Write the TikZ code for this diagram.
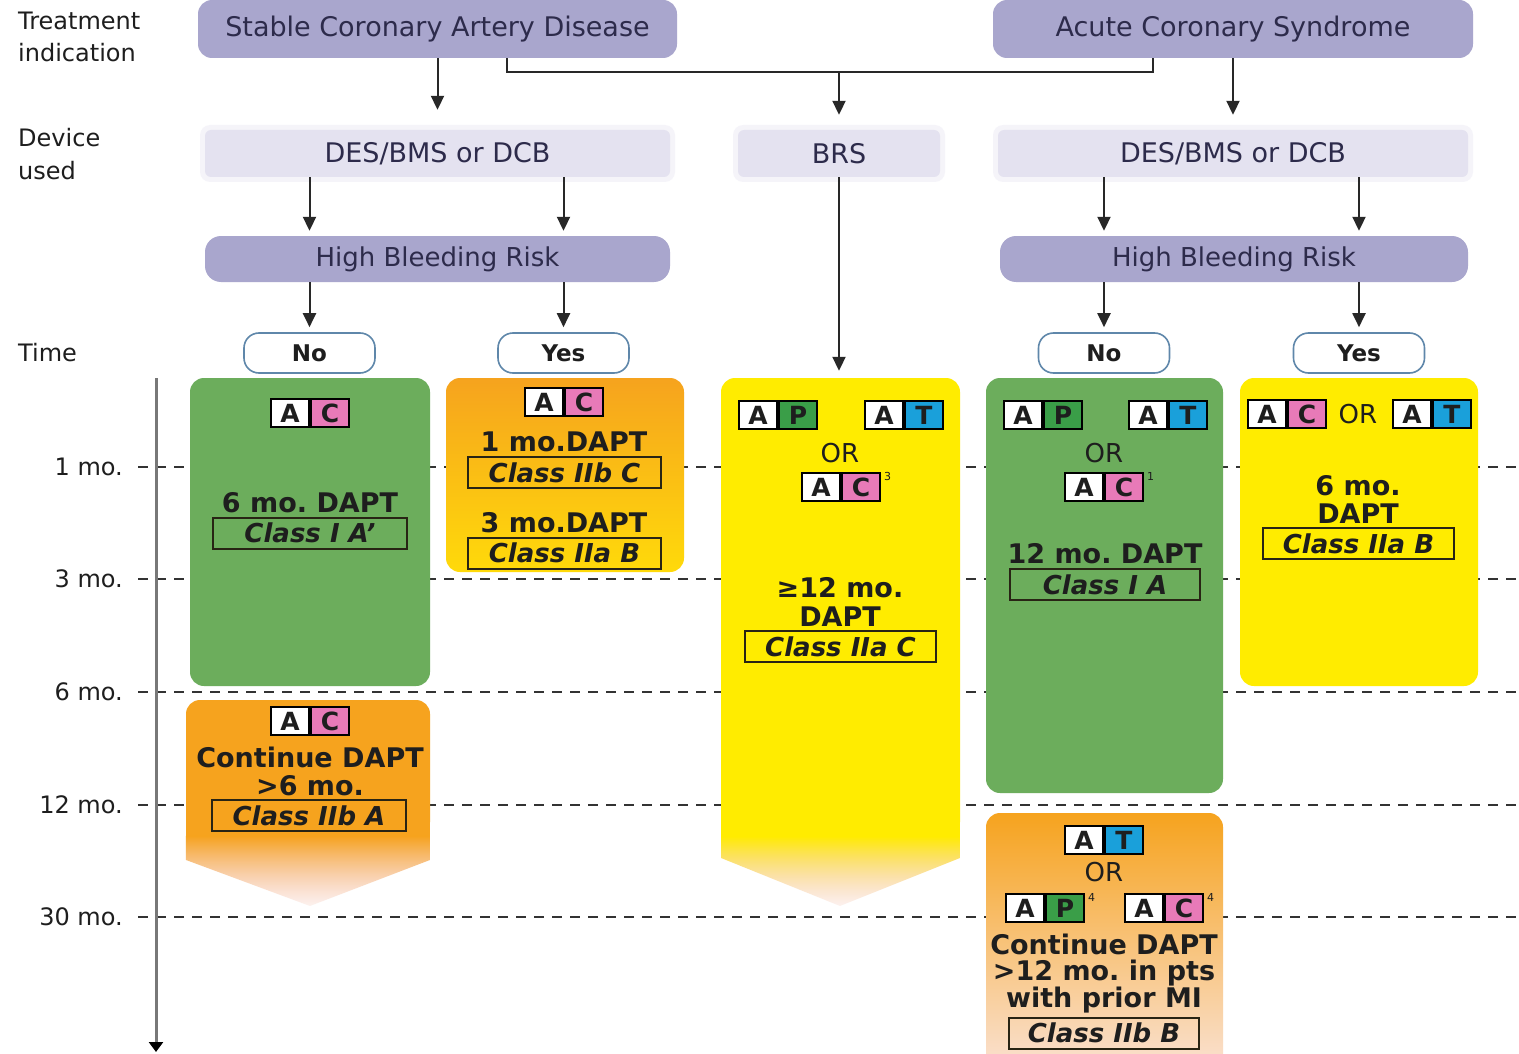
\documentclass[tikz,border=0pt]{standalone}
\usepackage{fontspec}
\setmainfont{DejaVu Sans}[ItalicFont={DejaVu Sans Oblique},BoldFont={DejaVu Sans Bold},BoldItalicFont={DejaVu Sans Bold Oblique}]
\usetikzlibrary{arrows.meta,fadings}
\definecolor{lavC}{RGB}{169,166,205}
\definecolor{devC}{RGB}{228,226,240}
\definecolor{navyC}{RGB}{45,43,75}
\definecolor{textC}{RGB}{30,30,30}
\definecolor{greenC}{RGB}{108,173,92}
\definecolor{orangeC}{RGB}{246,163,30}
\definecolor{yellowC}{RGB}{255,236,0}
\definecolor{yellowD}{RGB}{255,218,10}
\definecolor{pinkC}{RGB}{232,122,184}
\definecolor{greenP}{RGB}{58,158,72}
\definecolor{blueT}{RGB}{26,160,218}
\definecolor{pillC}{RGB}{95,135,170}
\definecolor{arrowC}{RGB}{40,40,40}
\definecolor{axisC}{RGB}{120,120,120}
\definecolor{clsC}{RGB}{40,36,20}
\definecolor{peachC}{RGB}{250,226,212}
\definecolor{pinkfade}{RGB}{242,170,150}
\newcommand\myfs[1]{\fontsize{#1}{#1}\selectfont}
\tikzfading[name=fadedown, top color=transparent!0, bottom color=transparent!85]
\newcommand\mybadge[5]{%
  \node[cell, fill=white, anchor=east] (#1a) at (#2,#3) {A};
  \node[cell, fill=#5, anchor=west] (#1b) at (#2,#3) {#4};}
\tikzset{
  arr/.style={draw=arrowC, line width=2pt, -{Triangle[width=13pt,length=14pt]}},
  conn/.style={draw=arrowC, line width=2pt},
  hdr/.style={rectangle, rounded corners=14pt, fill=lavC, text=navyC, font=\myfs{27}, inner sep=0pt},
  dev/.style={rectangle, rounded corners=6pt, fill=devC, text=navyC, font=\myfs{27}, inner sep=0pt},
  devhalo/.style={rectangle, rounded corners=10pt, fill=devC, opacity=0.35, inner sep=0pt},
  hbr/.style={rectangle, rounded corners=16pt, fill=lavC, text=navyC, font=\myfs{26}, inner sep=0pt},
  pill/.style={rectangle, rounded corners=15pt, draw=pillC, line width=1.6pt, fill=white, font=\bfseries\myfs{23}, inner sep=0pt, minimum width=131pt, minimum height=40pt, text=textC},
  lbl/.style={anchor=west, font=\myfs{24}, text=textC, inner sep=0pt},
  tick/.style={anchor=east, font=\myfs{24}, text=textC, inner sep=0pt},
  box/.style={rectangle, rounded corners=14pt, inner sep=0pt},
  bt/.style={font=\bfseries\myfs{27}, text=textC, inner sep=0pt},
  cls/.style={draw=clsC, line width=2pt, font=\bfseries\itshape\myfs{26}, text=textC, inner sep=0pt, minimum height=31pt},
  cell/.style={draw=black, line width=2pt, minimum width=38pt, minimum height=28pt, inner sep=0pt, font=\bfseries\myfs{25}, text=textC},
  ortext/.style={font=\myfs{26}, text=textC, inner sep=0pt},
  sup/.style={font=\myfs{11}, text=textC, inner sep=0pt, anchor=north west},
  dashln/.style={draw=black!80, line width=1.8pt, dash pattern=on 10pt off 8pt},
}
\begin{document}
\frenchspacing
\begin{tikzpicture}[x=1pt,y=-1pt]
\useasboundingbox (0,0) rectangle (1519,1054);
\clip (0,0) rectangle (1519,1054);
\fill[white] (0,0) rectangle (1519,1054);

% left labels
\node[lbl] (l1) at (18,21) {Treatment};
\node[lbl] (l2) at (18,53) {indication};
\node[lbl] (l3) at (18,138) {Device};
\node[lbl] (l4) at (18,171) {used};
\node[lbl] (l5) at (18,353) {Time};

% time grid
\foreach \yy/\tt in {467/1 mo., 579/3 mo., 692/6 mo., 805/12 mo., 917/30 mo.}{
  \draw[dashln] (138,\yy) -- (1519,\yy);
  \node[tick] (t\yy) at (123,\yy) {\tt};
}
\coordinate (axtop) at (156,378);
\coordinate (axbot) at (156,1052);
\draw[draw=axisC, line width=3pt, -{Triangle[width=14pt,length=10pt,fill=black,color=black]}] (axtop) -- (axbot);

% boxes
\node[box, fill=greenC, minimum width=240pt, minimum height=308pt] (g1) at (310,532) {};
\node[box, top color=orangeC, middle color=orangeC, bottom color=yellowD, minimum width=238pt, minimum height=194pt] (o1) at (565,475) {};
\node[box, fill=yellowC, minimum width=239pt, minimum height=458pt] (y1) at (840.5,607) {};
\fill[yellowC] (721,800) rectangle (960,836);
\shade[top color=yellowC, bottom color=pinkfade, path fading=fadedown] (721,836) -- (960,836) -- (960,858) -- (840,906) -- (721,858) -- cycle;
\node[box, fill=greenC, minimum width=237pt, minimum height=415pt] (g2) at (1104.5,585.5) {};
\node[box, fill=yellowC, minimum width=238pt, minimum height=308pt] (y2) at (1359,532) {};
\node[box, fill=orangeC, minimum width=244pt, minimum height=136pt] (o3) at (308,768) {};
\fill[orangeC] (186,800) rectangle (430,836);
\shade[top color=orangeC, bottom color=pinkfade, path fading=fadedown] (186,836) -- (430,836) -- (430,860) -- (310,906) -- (186,860) -- cycle;
\node[box, top color=orangeC, middle color=orangeC!75!peachC, bottom color=peachC, minimum width=237pt, minimum height=260pt] (o4) at (1104.5,943) {};

% box contents: SCAD no
\mybadge{bga}{310}{413}{C}{pinkC}
\node[bt] (t61) at (310,503) {6 mo. DAPT};
\node[cls, minimum width=194pt] (c1) at (310,533) {Class I A'};
% SCAD yes
\mybadge{boa}{564}{402}{C}{pinkC}
\node[bt] (t1m) at (564,442) {1 mo.DAPT};
\node[cls, minimum width=193pt] (c2) at (564.5,472.5) {Class IIb C};
\node[bt] (t3m) at (564,523) {3 mo.DAPT};
\node[cls, minimum width=193pt] (c3) at (564.5,553) {Class IIa B};
% BRS
\mybadge{bba}{778}{415}{P}{greenP}
\mybadge{bbb}{904}{415}{T}{blueT}
\node[ortext] (or1) at (840,453) {OR};
\mybadge{bbc}{841}{487}{C}{pinkC}
\node[sup] (s1) at ([xshift=3pt]bbcb.north east) {3};
\node[bt] (t12a) at (840,588) {≥12 mo.};
\node[bt] (tda) at (840,617) {DAPT};
\node[cls, minimum width=191pt] (c4) at (840.5,646.5) {Class IIa C};
% ACS no
\mybadge{bgb}{1043}{415}{P}{greenP}
\mybadge{bgc}{1168}{415}{T}{blueT}
\node[ortext] (or2) at (1104,453) {OR};
\mybadge{bgd}{1104}{487}{C}{pinkC}
\node[sup] (s2) at ([xshift=3pt]bgdb.north east) {1};
\node[bt] (t12b) at (1105,554) {12 mo. DAPT};
\node[cls, minimum width=190pt] (c5) at (1105,584.5) {Class I A};
% ACS yes
\mybadge{bya}{1287}{414}{C}{pinkC}
\node[ortext] (or3) at (1358,414) {OR};
\mybadge{byb}{1432}{414}{T}{blueT}
\node[bt] (t6b) at (1358,486) {6 mo.};
\node[bt] (tdb) at (1358,514) {DAPT};
\node[cls, minimum width=191pt] (c6) at (1358.5,543.5) {Class IIa B};
% SCAD continue
\mybadge{bob}{310}{721}{C}{pinkC}
\node[bt] (tc1) at (310,757) {Continue DAPT};
\node[bt] (t6c) at (310,786) {>6 mo.};
\node[cls, minimum width=194pt] (c7) at (309,815.5) {Class IIb A};
% ACS continue
\mybadge{boc}{1104}{840}{T}{blueT}
\node[ortext] (or4) at (1104,872) {OR};
\mybadge{bod}{1045}{908}{P}{greenP}
\node[sup] (s3) at ([xshift=3pt]bodb.north east) {4};
\mybadge{boe}{1164}{908}{C}{pinkC}
\node[sup] (s4) at ([xshift=3pt]boeb.north east) {4};
\node[bt] (tc2) at (1104,944) {Continue DAPT};
\node[bt] (t12c) at (1104,973) {>12 mo. in pts};
\node[bt] (twp) at (1104,1000) {with prior MI};
\node[cls, minimum width=190pt] (c8) at (1104,1033) {Class IIb B};

% header nodes
\node[hdr, minimum width=479pt, minimum height=58pt] (scad) at (437.5,29) {Stable Coronary Artery Disease};
\node[hdr, minimum width=480pt, minimum height=58pt] (acs) at (1233,29) {Acute Coronary Syndrome};
\node[devhalo, minimum width=475pt, minimum height=57pt] (h1) at (437.5,153.5) {};
\node[devhalo, minimum width=212pt, minimum height=57pt] (h2) at (839,153.5) {};
\node[devhalo, minimum width=480pt, minimum height=57pt] (h3) at (1233,153.5) {};
\node[dev, minimum width=465pt, minimum height=47pt] (des1) at (437.5,153.5) {DES/BMS or DCB};
\node[dev, minimum width=202pt, minimum height=47pt] (brs) at (839,153.5) {BRS};
\node[dev, minimum width=470pt, minimum height=47pt] (des2) at (1233,153.5) {DES/BMS or DCB};
\node[hbr, minimum width=465pt, minimum height=46pt] (hbr1) at (437.5,259) {High Bleeding Risk};
\node[hbr, minimum width=468pt, minimum height=46pt] (hbr2) at (1234,259) {High Bleeding Risk};
\node[pill] (no1) at (309.5,353) {No};
\node[pill] (yes1) at (563.5,353) {Yes};
\node[pill] (no2) at (1104,353) {No};
\node[pill] (yes2) at (1359,353) {Yes};

% connectors
\coordinate (jn) at (839,72);
\draw[conn] ([xshift=69.5pt]scad.south) |- (jn) -| ([xshift=-80pt]acs.south);
\draw[arr, shorten >=20pt] (scad.south) -- (des1.north);
\draw[arr, shorten >=15pt] (jn) -- (brs.north);
\draw[arr, shorten >=15pt] (acs.south) -- (des2.north);
\draw[arr, shorten >=5pt] (des1.south -| no1) -- (hbr1.north -| no1);
\draw[arr, shorten >=5pt] (des1.south -| yes1) -- (hbr1.north -| yes1);
\draw[arr, shorten >=5pt] (des2.south -| no2) -- (hbr2.north -| no2);
\draw[arr, shorten >=5pt] (des2.south -| yes2) -- (hbr2.north -| yes2);
\draw[arr, shorten >=5pt] (hbr1.south -| no1) -- (no1.north);
\draw[arr, shorten >=5pt] (hbr1.south -| yes1) -- (yes1.north);
\draw[arr, shorten >=5pt] (hbr2.south -| no2) -- (no2.north);
\draw[arr, shorten >=5pt] (hbr2.south -| yes2) -- (yes2.north);
\draw[arr, shorten >=7pt] (brs.south) -- (brs.south |- y1.north);
\end{tikzpicture}
\end{document}
